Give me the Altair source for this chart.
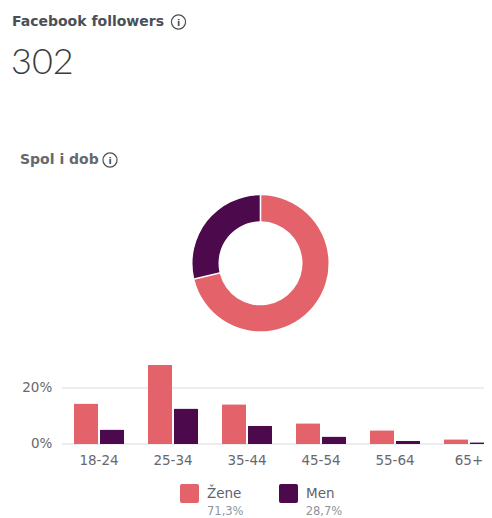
import altair as alt
import pandas as pd

# ---- data ----
TITLE = "Facebook followers"
TOTAL = "302"
SUBTITLE = "Spol i dob"
AGES = ["18-24", "25-34", "35-44", "45-54", "55-64", "65+"]
ZENE = [14.5, 28.3, 14.2, 7.4, 4.9, 1.7]
MEN = [5.2, 12.7, 6.5, 2.7, 1.2, 0.6]
SEXES = ["Žene", "Men"]
SHARES = [71.3, 28.7]
Y_TICKS = [0, 20]
COLORS = ["#E4626A", "#4C0A4C"]

FONT = "DejaVu Sans"

bars_df = pd.DataFrame(
    [{"age": a, "sex": SEXES[0], "pct": z} for a, z in zip(AGES, ZENE)]
    + [{"age": a, "sex": SEXES[1], "pct": m} for a, m in zip(AGES, MEN)]
)
share_df = pd.DataFrame({
    "sex": SEXES,
    "share": SHARES,
    "idx": list(range(len(SEXES))),
    "lab": [f"{v:.1f}%".replace(".", ",") for v in SHARES],
})
grid_df = pd.DataFrame({"v": Y_TICKS, "lab": [f"{v}%" for v in Y_TICKS]})

W, H = 476, 510

color_scale = alt.Scale(domain=SEXES, range=COLORS)
rounded_sq = "M-0.8,-1H0.8Q1,-1 1,-0.8V0.8Q1,1 0.8,1H-0.8Q-1,1 -1,0.8V-0.8Q-1,-1 -0.8,-1Z"
legend = alt.Legend(
    orient="none", legendX=172, legendY=476, direction="horizontal", title=None,
    symbolType=rounded_sq, symbolSize=361, symbolStrokeWidth=0, symbolOpacity=1,
    labelFont=FONT, labelFontSize=13.5, labelColor="#5f6369", labelOffset=8,
    columnPadding=37, padding=0,
)
y_scale = alt.Scale(domain=[0, 20], range=[436, 380], nice=False, zero=True)
x_scale = alt.Scale(domain=AGES, range=[54, 498], paddingInner=0.324, paddingOuter=0.162)

grid = alt.Chart(grid_df).mark_rule(color="#e6e7ea", strokeWidth=1.6).encode(
    y=alt.Y("v:Q", scale=y_scale, axis=None),
    x=alt.value(54), x2=alt.value(W),
)

# y tick labels, placed through the y scale
ylabels = alt.Chart(grid_df).mark_text(
    align="right", baseline="middle", font=FONT, fontSize=13.5, color="#65686e"
).encode(
    y=alt.Y("v:Q", scale=y_scale, axis=None),
    text="lab:N",
    x=alt.value(44.3),
)

bars = alt.Chart(bars_df).mark_bar(cornerRadiusTopLeft=1, cornerRadiusTopRight=1).encode(
    x=alt.X("age:N", sort=AGES, scale=x_scale,
            axis=alt.Axis(title=None, domain=False, ticks=False, tickSize=0, grid=False,
                          labelPadding=9, offset=-(H - 436), labelFont=FONT, labelFontSize=13.5,
                          labelColor="#65686e", labelAngle=0)),
    xOffset=alt.XOffset("sex:N", sort=SEXES, scale=alt.Scale(paddingInner=0.07, paddingOuter=0)),
    y=alt.Y("pct:Q", scale=y_scale, axis=None),
    color=alt.Color("sex:N", scale=color_scale, sort=SEXES, legend=legend),
)

donut = alt.Chart(share_df).mark_arc(innerRadius=42, outerRadius=68, padAngle=0.02).encode(
    theta=alt.Theta("share:Q", stack=True),
    order=alt.Order("idx:Q"),
    color=alt.Color("sex:N", scale=color_scale, sort=SEXES, legend=legend),
    x=alt.value(252.5), y=alt.value(255.3),
)

def label(txt, x, y, size, weight, color, font=FONT):
    return alt.Chart(pd.DataFrame({"t": [txt]})).mark_text(
        align="left", baseline="middle", font=font, fontSize=size, fontWeight=weight, color=color
    ).encode(text="t:N", x=alt.value(x), y=alt.value(y))

def icon(x, y):
    d = pd.DataFrame({"t": ["i"]})
    circ = alt.Chart(d).mark_point(shape="circle", filled=False, size=200, strokeWidth=1.2,
                                   color="#4b4f56", opacity=1).encode(x=alt.value(x), y=alt.value(y))
    i = alt.Chart(d).mark_text(font=FONT, fontSize=9.5, fontWeight="bold", color="#4b4f56",
                               align="center", baseline="middle").encode(
        text="t:N", x=alt.value(x), y=alt.value(y + 0.5))
    return [circ, i]

title = label(TITLE, 4, 13.5, 14, "bold", "#4b4f56")
total = label(TOTAL, 3, 54.5, 36, 300, "#3a3b3c", font="Lato")
sub = label(SUBTITLE, 12, 151.5, 14, "bold", "#65686e")

pct_layers = []
for s, x in zip(SEXES, [199, 297.7]):
    pct_layers.append(
        alt.Chart(share_df).transform_filter(alt.datum.sex == s).mark_text(
            align="left", baseline="middle", font=FONT, fontSize=11.5, color="#90949c"
        ).encode(text="lab:N", x=alt.value(x), y=alt.value(504.3))
    )

chart = alt.layer(
    grid, ylabels, bars, donut, title, total, sub, *icon(170.5, 14), *icon(102, 152), *pct_layers
).properties(
    width=W, height=H, autosize=alt.AutoSizeParams(type="none"), padding=0
).configure_view(stroke=None)

chart.save("out.html", embed_options={"renderer": "svg", "actions": False})
